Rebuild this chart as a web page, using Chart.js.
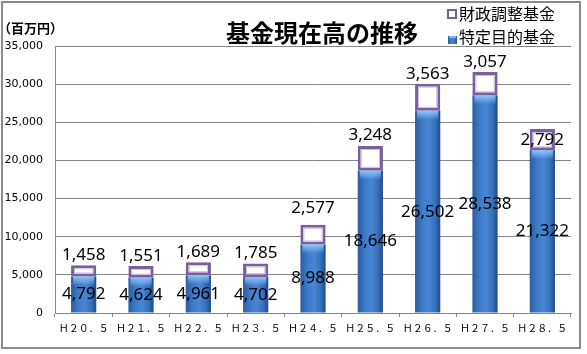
<!DOCTYPE html>
<html>
<head>
<meta charset="utf-8">
<script src="https://cdn.jsdelivr.net/npm/chart.js@4"></script>
<style>
    body { margin: 0; background: #fff; }
</style>
</head>
<body>
<canvas id="fundChart" width="587" height="354"></canvas>
<script>
// 基金現在高の推移 (百万円)
const labels = ['Ｈ２０．５', 'Ｈ２１．５', 'Ｈ２２．５', 'Ｈ２３．５', 'Ｈ２４．５', 'Ｈ２５．５', 'Ｈ２６．５', 'Ｈ２７．５', 'Ｈ２８．５'];
const tokuteiName = '特定目的基金';
const zaiseiName = '財政調整基金';
const tokutei = [4792, 4624, 4961, 4702, 8988, 18646, 26502, 28538, 21322];
const zaisei = [1458, 1551, 1689, 1785, 2577, 3248, 3563, 3057, 2792];
const yTicks = [0, 5000, 10000, 15000, 20000, 25000, 30000, 35000];

// label lift above the cap box (null = centred in the box)
const capLabelLift = [10, 10, 10, 10, 17, 11, 9, 10, null];

const BAR_PCT = 0.44;
const GRID = '#868686';
const PURPLE = '#7a5f9a';

function fmt(v) {
    return v.toLocaleString('en-US');
}

function blueGradient(c, left, width) {
    const g = c.createLinearGradient(left, 0, left + width, 0);
    g.addColorStop(0, '#2b5c9e');
    g.addColorStop(0.3, '#3d7cc9');
    g.addColorStop(0.55, '#4886d3');
    g.addColorStop(0.8, '#3670b9');
    g.addColorStop(1, '#1f4b87');
    return g;
}

function cylinderFill(context) {
    const chart = context.chart;
    const xs = chart.scales.x;
    if (!xs || context.dataIndex === undefined) return '#3b74c0';
    const cx = xs.getPixelForValue(context.dataIndex);
    const w = xs.width / labels.length * BAR_PCT;
    if (!isFinite(cx) || !isFinite(w) || w <= 0) return '#3b74c0';
    return blueGradient(chart.ctx, cx - w / 2, w);
}

const decorPlugin = {
    id: 'decor',
    afterDatasetDraw(chart, args) {
        const c = chart.ctx;
        c.save();
        if (args.index === 1) {
            // soft inner edge of the cap boxes
            c.strokeStyle = 'rgba(190,170,215,0.8)';
            c.lineWidth = 1;
            args.meta.data.forEach(bar => {
                const left = bar.x - bar.width / 2;
                c.strokeRect(left + 3.5, bar.y + 3.5, bar.width - 7, bar.base - bar.y - 7);
            });
        }
        if (args.index === 0) {
            // light band on top of each blue bar
            args.meta.data.forEach(bar => {
                const left = bar.x - bar.width / 2;
                const g = c.createLinearGradient(0, bar.y, 0, bar.y + 9);
                g.addColorStop(0, 'rgba(150,200,255,0.95)');
                g.addColorStop(1, 'rgba(150,200,255,0)');
                c.fillStyle = g;
                c.fillRect(left + 2, bar.y, bar.width - 4, 9);
            });
        }
        c.restore();
    },
    afterDatasetsDraw(chart) {
        const c = chart.ctx;
        const base = chart.getDatasetMeta(0).data;
        const cap = chart.getDatasetMeta(1).data;
        c.save();
        c.font = '17px "Noto Sans"';
        c.fillStyle = '#000';
        c.textAlign = 'center';
        c.textBaseline = 'middle';
        base.forEach((bar, i) => {
            c.fillText(fmt(tokutei[i]), bar.x, (bar.y + bar.base) / 2);
        });
        cap.forEach((bar, i) => {
            const lift = capLabelLift[i];
            const y = lift === null ? (bar.y + bar.base) / 2 : bar.y - lift;
            c.fillText(fmt(zaisei[i]), bar.x, y);
        });
        c.restore();
    },
    afterDraw(chart) {
        const c = chart.ctx;
        c.save();
        // outer frame
        c.strokeStyle = '#8c8c8c';
        c.lineWidth = 2;
        c.strokeRect(2, 2, 578, 346);

        // title
        c.fillStyle = '#000';
        c.font = 'bold 24px "Noto Sans CJK JP"';
        c.textAlign = 'center';
        c.textBaseline = 'middle';
        c.fillText('基金現在高の推移', 322, 33);

        // unit
        c.font = 'bold 13px "Noto Sans CJK JP"';
        c.textAlign = 'left';
        c.fillText('（百万円）', -2, 28);

        // legend
        c.font = '16px "Noto Sans CJK JP"';
        c.textAlign = 'left';
        c.fillStyle = '#fff';
        c.fillRect(447, 9, 10, 10);
        c.strokeStyle = PURPLE;
        c.lineWidth = 2;
        c.strokeRect(448, 10, 8, 8);
        c.fillStyle = '#000';
        c.fillText(zaiseiName, 459, 14);

        c.fillStyle = blueGradient(c, 448, 9);
        c.fillRect(448, 36, 9, 8);
        c.fillStyle = 'rgba(150,200,255,0.8)';
        c.fillRect(449, 36, 7, 2);
        c.fillStyle = '#000';
        c.fillText(tokuteiName, 459, 37);
        c.restore();
    }
};

const ctx = document.getElementById('fundChart');
new Chart(ctx, {
    type: 'bar',
    data: {
        labels: labels,
        datasets: [{
            label: tokuteiName,
            data: tokutei,
            backgroundColor: cylinderFill,
            borderWidth: 0,
            barPercentage: BAR_PCT,
            categoryPercentage: 1
        }, {
            label: zaiseiName,
            data: zaisei,
            backgroundColor: '#ffffff',
            borderColor: PURPLE,
            borderWidth: 3,
            borderSkipped: false,
            barPercentage: BAR_PCT,
            categoryPercentage: 1
        }]
    },
    options: {
        responsive: false,
        animation: false,
        layout: {
            padding: { top: 46, right: 16, left: 0, bottom: 0 }
        },
        plugins: {
            legend: { display: false },
            title: { display: false },
            tooltip: { enabled: false }
        },
        scales: {
            x: {
                stacked: true,
                offset: true,
                grid: {
                    display: true,
                    offset: true,
                    drawOnChartArea: false,
                    drawTicks: true,
                    tickLength: 4,
                    color: GRID
                },
                border: { display: true, color: GRID },
                ticks: {
                    color: '#000',
                    padding: 5,
                    maxRotation: 0,
                    autoSkip: false,
                    font: { family: '"Noto Sans CJK JP"', size: 10 }
                },
                afterFit: function(scale) {
                    scale.height = 41;
                }
            },
            y: {
                stacked: true,
                min: yTicks[0],
                max: yTicks[yTicks.length - 1],
                afterBuildTicks: function(scale) {
                    scale.ticks = yTicks.map(v => ({ value: v }));
                },
                grid: {
                    color: GRID,
                    drawTicks: false
                },
                border: { display: true, color: GRID },
                ticks: {
                    color: '#000',
                    padding: 12,
                    font: { family: '"DejaVu Sans"', size: 11 },
                    callback: function(value) {
                        return fmt(value);
                    }
                },
                afterFit: function(scale) {
                    scale.width = 55;
                }
            }
        }
    },
    plugins: [decorPlugin]
});
</script>
</body>
</html>
